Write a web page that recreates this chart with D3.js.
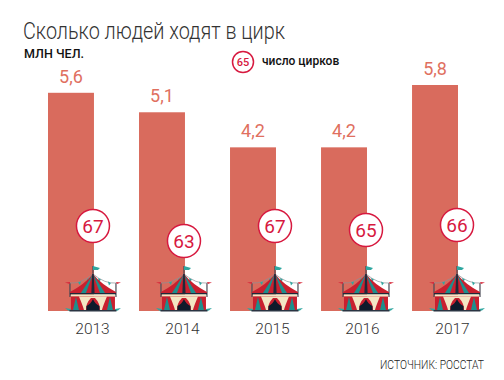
<!DOCTYPE html>
<html>
<head>
<meta charset="utf-8">
<script src="https://cdn.jsdelivr.net/npm/d3@7"></script>
<style>
  html, body { margin: 0; background: #fff; }
  svg { display: block; }
  text { font-family: Roboto, sans-serif; }
</style>
</head>
<body>
<div id="chart"></div>
<script>
const years = ['2013', '2014', '2015', '2016', '2017']
const visitors = [5.6, 5.1, 4.2, 4.2, 5.8]
const circuses = [67, 63, 67, 65, 66]

const width = 504
const height = 380
const baseline = 311
const red = '#d96b5d'
const crimson = '#d7193f'

// How far each badge sits above the baseline, they are placed by hand in the original
const badgeLift = [85, 70, 85, 81, 86]

const svg = d3.select('#chart').append('svg')
  .attr('width', width)
  .attr('height', height)

const xScale = d3.scaleBand()
  .domain(years)
  .range([48, 458])
  .paddingInner(0.495)
  .paddingOuter(0)

const yScale = d3.scaleLinear()
  .domain([0, 5.8])
  .range([baseline, 85])

// Year labels sit under the tents, not under the bars
const labelScale = d3.scalePoint()
  .domain(years)
  .range([92, 452])

const comma = d3.format('.1f')

// Title, the original font is narrower than anything installed so squeeze it
svg.append('text')
  .attr('x', 23)
  .attr('y', 39)
  .attr('font-size', 23.5)
  .attr('font-weight', 300)
  .attr('fill', '#333')
  .attr('textLength', 262)
  .attr('lengthAdjust', 'spacingAndGlyphs')
  .text('Сколько людей ходят в цирк')

svg.append('text')
  .attr('x', 24)
  .attr('y', 58)
  .attr('font-size', 13.5)
  .attr('font-weight', 500)
  .attr('fill', '#111')
  .attr('textLength', 60)
  .attr('lengthAdjust', 'spacingAndGlyphs')
  .text('МЛН ЧЕЛ.')

// Bars
svg.append('g').selectAll('rect')
  .data(years)
  .join('rect')
  .attr('x', d => xScale(d))
  .attr('y', (d, i) => yScale(visitors[i]))
  .attr('width', xScale.bandwidth())
  .attr('height', (d, i) => baseline - yScale(visitors[i]))
  .attr('fill', red)

// Value labels
svg.append('g').selectAll('text')
  .data(years)
  .join('text')
  .attr('x', d => xScale(d) + xScale.bandwidth() / 2)
  .attr('y', (d, i) => yScale(visitors[i]) - 10)
  .attr('text-anchor', 'middle')
  .attr('font-size', 18)
  .attr('fill', '#e0705f')
  .text((d, i) => comma(visitors[i]).replace('.', ','))

// Tents, local origin is the middle of the floor
function drawTent (g) {
  const shape = (d, fill, stroke, sw) => g.append('path')
    .attr('d', d)
    .attr('fill', fill)
    .attr('stroke', stroke || 'none')
    .attr('stroke-width', sw || 0)

  // side flags
  shape('M-22 -2 L-28 -3 L-25 -0.5 L-22 0 Z', '#2fa7a0')
  shape('M22 -2 L28 -3 L25 -0.5 L22 0 Z', '#2fa7a0')
  // top pole and flag
  shape('M0 -37 L0 -45', 'none', '#33404f', 1)
  shape('M0 -45 L7 -43 L5 -41 L0 -41 Z', '#2fa7a0')
  // posts
  shape('M-23 -14 L-23 -28 M23 -14 L23 -28', 'none', '#4a4a55', 1.2)
  shape('M-23 -29 L-28 -28.5 L-23 -27 Z M23 -29 L28 -28.5 L24 -27 Z', '#d7283a')
  // bunting
  shape('M0 -37 Q-12 -27 -23 -28 M0 -37 Q12 -27 23 -28', 'none', '#8a9096', 0.7)
  shape('M-6 -32 L-3 -33 L-5 -29 Z M-15 -28.5 L-12 -29.5 L-13 -26 Z M5 -33 L8 -31.5 L6 -29 Z M15 -29.5 L18 -28 L16 -25.5 Z', '#2fa7a0')
  // roof
  shape('M0 -37 Q-8 -27 -23 -19 L-23 -17 L23 -17 L23 -19 Q8 -27 0 -37 Z', '#c9202f')
  shape('M0 -37 L-12 -18 L-7 -18 Z M0 -37 L7 -18 L12 -18 Z', '#1d8f8c')
  shape('M-0.8 -37 L-1.6 -18 L1.6 -18 L0.8 -37 Z', '#1f2a3a')
  shape('M-23 -18 L23 -18 L23 -16.5 L-23 -16.5 Z', '#1f2a3a')
  shape('M-22 -16.5 L22 -16.5 L22 -14.5 L-22 -14.5 Z', '#f3e6c4')
  // walls
  shape('M-22 -14.5 L22 -14.5 L22 -1 L-22 -1 Z', '#c9202f')
  shape('M-17 -14 L-14 -1 L-20 -1 Z M17 -14 L20 -1 L14 -1 Z', '#1d8f8c')
  // drapes and door
  shape('M-14 -14.5 Q-10 -5 -9 -1 L-7 -1 Q-7 -8 -2 -13 L2 -13 Q7 -8 7 -1 L9 -1 Q10 -5 14 -14.5 Z', '#f3e6c4')
  shape('M0 -12 Q-2 -7 -6.5 -5 L-6.5 -1 L6.5 -1 L6.5 -5 Q2 -7 0 -12 Z', '#0e1a2b')
  shape('M-23.5 -1 L23.5 -1 L23.5 0.5 L-23.5 0.5 Z', '#2a3442')
}

svg.append('g').selectAll('g')
  .data(years)
  .join('g')
  .attr('transform', d => `translate(${xScale(d) + xScale.bandwidth() - 1}, ${baseline})`)
  .each(function () { drawTent(d3.select(this)) })

// Circus count badges
const badges = svg.append('g').selectAll('g')
  .data(years)
  .join('g')
  .attr('transform', (d, i) => `translate(${xScale(d) + xScale.bandwidth() - 1}, ${baseline - badgeLift[i]})`)

badges.append('circle')
  .attr('r', 16.5)
  .attr('fill', '#fff')
  .attr('stroke', crimson)
  .attr('stroke-width', 1.5)

badges.append('text')
  .attr('y', 7)
  .attr('text-anchor', 'middle')
  .attr('font-size', 19)
  .attr('fill', crimson)
  .text((d, i) => circuses[i])

// Legend
const legend = svg.append('g')
  .attr('transform', 'translate(243, 62)')

legend.append('circle')
  .attr('r', 10.5)
  .attr('fill', '#fff')
  .attr('stroke', crimson)
  .attr('stroke-width', 1.5)

legend.append('text')
  .attr('y', 4)
  .attr('text-anchor', 'middle')
  .attr('font-size', 11)
  .attr('font-weight', 500)
  .attr('fill', crimson)
  .text('65')

legend.append('text')
  .attr('x', 19)
  .attr('y', 3)
  .attr('font-size', 12)
  .attr('font-weight', 500)
  .attr('fill', '#111')
  .text('число цирков')

// x axis
const xAxis = d3.axisBottom(labelScale).tickSize(0).tickPadding(0)
const axisG = svg.append('g')
  .attr('class', 'axis')
  .attr('transform', 'translate(0, 323)')
  .call(xAxis)
axisG.select('.domain').remove()
axisG.selectAll('text')
  .style('font-family', 'Roboto, sans-serif')
  .style('font-size', '15.5px')
  .style('font-weight', 300)
  .style('fill', '#333')

// Source
svg.append('text')
  .attr('x', 380)
  .attr('y', 369)
  .attr('font-size', 12)
  .attr('font-weight', 300)
  .attr('fill', '#222')
  .attr('textLength', 104)
  .attr('lengthAdjust', 'spacingAndGlyphs')
  .text('ИСТОЧНИК: РОССТАТ')
</script>
</body>
</html>
